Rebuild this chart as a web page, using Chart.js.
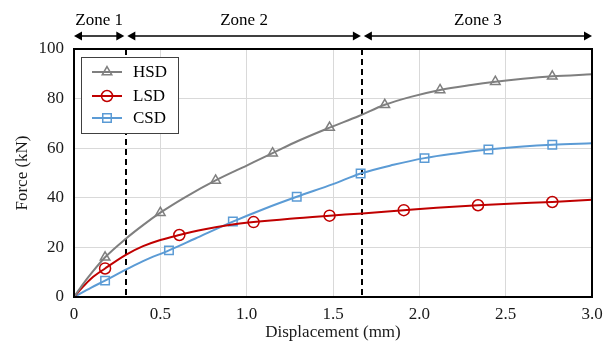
<!doctype html>
<html>
<head>
<meta charset="utf-8" />
<script src="https://cdn.jsdelivr.net/npm/chart.js@4/dist/chart.umd.min.js"></script>
<style>
  html, body { margin: 0; padding: 0; background: #fff; }
  .wrap { width: 613px; height: 347px; position: relative; }
</style>
</head>
<body>
<div class="wrap"><canvas id="chart" width="613" height="347"></canvas></div>
<script>
// curves: [displacement mm, force kN]
const hsdCurve = [[0, 0], [0.05, 5], [0.1, 9.5], [0.18, 16], [0.3, 23.5], [0.4, 29], [0.5, 34], [0.65, 40.5],
  [0.82, 47], [1.0, 53], [1.15, 58], [1.3, 63], [1.48, 68.3], [1.65, 73], [1.8, 77.5], [1.95, 80.7],
  [2.12, 83.5], [2.3, 85.5], [2.44, 86.8], [2.6, 88], [2.77, 89], [3.0, 89.8]];
const lsdCurve = [[0, 0], [0.05, 4], [0.1, 7.5], [0.18, 11.5], [0.3, 17], [0.4, 20.5], [0.5, 23], [0.61, 25],
  [0.75, 27.2], [0.9, 29], [1.04, 30.2], [1.25, 31.6], [1.48, 32.8], [1.67, 33.7], [1.91, 35], [2.1, 36],
  [2.34, 37], [2.55, 37.7], [2.77, 38.3], [3.0, 39.2]];
const csdCurve = [[0, 0], [0.1, 3.8], [0.18, 6.6], [0.3, 11], [0.4, 14.5], [0.55, 18.8], [0.7, 23.5],
  [0.92, 30.4], [1.1, 35.5], [1.29, 40.4], [1.5, 45.5], [1.66, 49.8], [1.85, 53.3], [2.03, 56], [2.2, 57.8],
  [2.4, 59.5], [2.6, 60.7], [2.77, 61.4], [3.0, 62]];

// where the markers sit on each curve
const hsdMarks = [0.18, 0.5, 0.82, 1.15, 1.48, 1.8, 2.12, 2.44, 2.77];
const lsdMarks = [0.18, 0.61, 1.04, 1.48, 1.91, 2.34, 2.77];
const csdMarks = [0.18, 0.55, 0.92, 1.29, 1.66, 2.03, 2.4, 2.77];

const seriesNames = ['HSD', 'LSD', 'CSD'];
const zoneEdges = [0, 0.3, 1.67, 3.0];
const zoneLabels = ['Zone 1', 'Zone 2', 'Zone 3'];
const xTicks = [0, 0.5, 1.0, 1.5, 2.0, 2.5, 3.0];
const yTicks = [0, 20, 40, 60, 80, 100];

const colors = ['#7f7f7f', '#c00000', '#5b9bd5'];
const pointStyles = ['triangle', 'circle', 'rect'];
const pointSizes = [5.5, 5.5, 6];
const FONT = "'Liberation Serif', 'Times New Roman', serif";

Chart.defaults.font.family = FONT;
Chart.defaults.font.size = 17;
Chart.defaults.color = '#1a1a1a';

const curves = [hsdCurve, lsdCurve, csdCurve];
const marks = [hsdMarks, lsdMarks, csdMarks];
const toXY = (pairs) => pairs.map(([x, y]) => ({ x, y }));

const datasets = [];
seriesNames.forEach((name, i) => {
  datasets.push({
    label: name,
    data: toXY(curves[i]),
    borderColor: colors[i],
    borderWidth: 2,
    pointRadius: 0,
    cubicInterpolationMode: 'monotone',
    fill: false,
  });
  datasets.push({
    label: name + ' markers',
    data: toXY(curves[i].filter(([x]) => marks[i].includes(x))),
    showLine: false,
    pointStyle: pointStyles[i],
    pointRadius: pointSizes[i],
    pointBorderWidth: 1.5,
    pointBorderColor: colors[i],
    pointBackgroundColor: 'rgba(255,255,255,0)',
  });
});

function arrowHead(ctx, x, y, dir) {
  ctx.beginPath();
  ctx.moveTo(x, y);
  ctx.lineTo(x - dir * 8, y - 4.5);
  ctx.lineTo(x - dir * 8, y + 4.5);
  ctx.closePath();
  ctx.fill();
}

const decorations = {
  id: 'decorations',
  beforeDatasetsDraw(chart) {
    const { ctx, chartArea, scales } = chart;
    ctx.save();
    ctx.strokeStyle = '#000';
    ctx.lineWidth = 2;
    ctx.setLineDash([6, 4]);
    zoneEdges.slice(1, -1).forEach((v) => {
      const x = Math.round(scales.x.getPixelForValue(v));
      ctx.beginPath();
      ctx.moveTo(x, chartArea.top);
      ctx.lineTo(x, chartArea.bottom);
      ctx.stroke();
    });
    ctx.restore();
  },
  afterDatasetsDraw(chart) {
    const { ctx, chartArea } = chart;
    ctx.save();
    ctx.strokeStyle = '#000';
    ctx.lineWidth = 2;
    ctx.strokeRect(chartArea.left, chartArea.top, chartArea.right - chartArea.left, chartArea.bottom - chartArea.top);
    ctx.restore();
  },
  afterDraw(chart) {
    const { ctx, scales } = chart;
    ctx.save();
    // zone arrows and labels
    const ay = 36;
    ctx.fillStyle = '#000';
    ctx.strokeStyle = '#000';
    ctx.lineWidth = 1.5;
    ctx.font = '17px ' + FONT;
    ctx.textAlign = 'center';
    ctx.textBaseline = 'middle';
    for (let i = 0; i < zoneLabels.length; i++) {
      const x0 = scales.x.getPixelForValue(zoneEdges[i]) + (i === 0 ? 0 : 1.5);
      const x1 = scales.x.getPixelForValue(zoneEdges[i + 1]) - (i === zoneLabels.length - 1 ? 0 : 1.5);
      ctx.beginPath();
      ctx.moveTo(x0 + 4, ay);
      ctx.lineTo(x1 - 4, ay);
      ctx.stroke();
      arrowHead(ctx, x0, ay, -1);
      arrowHead(ctx, x1, ay, 1);
      ctx.fillText(zoneLabels[i], (x0 + x1) / 2, 21);
    }
    // legend
    const lx = 81, ly = 57, lw = 97, lh = 76;
    ctx.fillStyle = '#fff';
    ctx.fillRect(lx, ly, lw, lh);
    ctx.strokeStyle = '#404040';
    ctx.lineWidth = 1;
    ctx.strokeRect(lx + 0.5, ly + 0.5, lw, lh);
    const rowY = [72, 96, 118];
    seriesNames.forEach((name, i) => {
      const y = rowY[i];
      ctx.strokeStyle = colors[i];
      ctx.lineWidth = 2;
      ctx.beginPath();
      ctx.moveTo(92, y);
      ctx.lineTo(122, y);
      ctx.stroke();
      ctx.fillStyle = 'rgba(255,255,255,0)';
      ctx.lineWidth = 1.5;
      Chart.helpers.drawPoint(ctx, { pointStyle: pointStyles[i], radius: pointSizes[i], rotation: 0, borderWidth: 1.5 }, 107, y);
      ctx.fillStyle = '#000';
      ctx.textAlign = 'left';
      ctx.fillText(name, 133, y + 1);
    });
    ctx.restore();
  },
};

new Chart(document.getElementById('chart'), {
  type: 'line',
  data: { datasets },
  options: {
    responsive: false,
    animation: false,
    layout: { padding: { top: 49, right: 21, left: 0, bottom: 0 } },
    plugins: { legend: { display: false }, tooltip: { enabled: false } },
    scales: {
      x: {
        type: 'linear',
        min: 0,
        max: 3,
        afterFit: (s) => { s.height = 50; },
        afterBuildTicks: (s) => { s.ticks = xTicks.map((value) => ({ value })); },
        ticks: { padding: 7, callback: (v) => (v === 0 ? '0' : v.toFixed(1)), maxRotation: 0 },
        grid: { color: '#d9d9d9', lineWidth: 1, drawTicks: false },
        border: { display: false },
        title: { display: true, text: 'Displacement (mm)', padding: { top: 0, bottom: 4 } },
      },
      y: {
        type: 'linear',
        min: 0,
        max: 100,
        afterFit: (s) => { s.width = 74; },
        afterBuildTicks: (s) => { s.ticks = yTicks.map((value) => ({ value })); },
        ticks: { padding: 10 },
        grid: { color: '#d9d9d9', lineWidth: 1, drawTicks: false },
        border: { display: false },
        title: { display: true, text: 'Force (kN)', padding: { top: 12, bottom: 0 } },
      },
    },
  },
  plugins: [decorations],
});
</script>
</body>
</html>
